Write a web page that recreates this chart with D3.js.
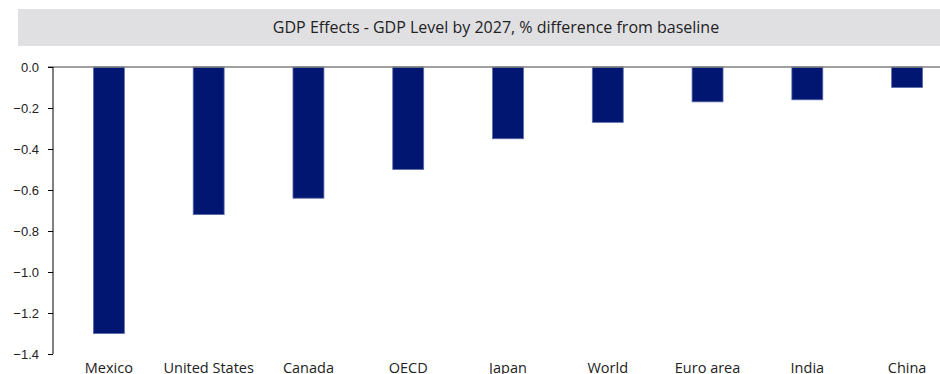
<!DOCTYPE html>
<meta charset="utf-8">
<title>GDP Effects</title>
<style>
body { margin: 0; background: #fff; }
svg { display: block; font-family: "Open Sans", sans-serif; }
.bar { fill: #001670; stroke: #5a6aa8; stroke-width: 0.8; }
.axis--y path, .axis--y line { stroke: #000; }
.axis--y text { font-size: 13px; fill: #222; }
.axis--x text { font-size: 14.5px; fill: #222; }
</style>
<svg width="940" height="374"></svg>
<script src="https://d3js.org/d3.v7.min.js"></script>
<script>

var categories = ["Mexico", "United States", "Canada", "OECD", "Japan", "World", "Euro area", "India", "China"];
var values = [-1.3, -0.72, -0.64, -0.5, -0.35, -0.27, -0.17, -0.16, -0.1];
var yTicks = [0, -0.2, -0.4, -0.6, -0.8, -1.0, -1.2, -1.4];
var title = "GDP Effects - GDP Level by 2027, % difference from baseline";

var svg = d3.select("svg"),
    width = +svg.attr("width"),
    height = +svg.attr("height");

var plotLeft = 53, plotTop = 67, plotBottom = 354;

// title band
svg.append("rect")
    .attr("x", 18).attr("y", 9)
    .attr("width", width - 18).attr("height", 37)
    .attr("fill", "#e0e0e2");
svg.append("text")
    .attr("x", 496).attr("y", 33)
    .attr("text-anchor", "middle")
    .style("font-size", "16px")
    .attr("fill", "#222")
    .text(title);

var x = d3.scaleBand().domain(categories).range([59, 957]).paddingInner(0.69).paddingOuter(0.345),
    y = d3.scaleLinear().domain([-1.4, 0]).range([plotBottom, plotTop]);

svg.selectAll(".bar")
    .data(values)
    .enter().append("rect")
    .attr("class", "bar")
    .attr("x", function(d, i) { return x(categories[i]); })
    .attr("y", y(0))
    .attr("width", x.bandwidth())
    .attr("height", function(d) { return y(d) - y(0); });

// zero line
svg.append("line")
    .attr("x1", plotLeft - 5).attr("x2", width)
    .attr("y1", y(0)).attr("y2", y(0))
    .attr("stroke", "#808080").attr("stroke-width", 1.5);

svg.append("g")
    .attr("class", "axis axis--y")
    .attr("transform", "translate(" + plotLeft + ",0)")
    .call(d3.axisLeft(y).tickValues(yTicks).tickFormat(d3.format(".1f")).tickSize(5).tickSizeOuter(0))
    .call(function(g) { g.select(".domain").attr("d", "M0," + y(0) + "V" + y(-1.4)); })
    .selectAll("text").attr("x", -14);

// category labels
svg.append("g")
    .attr("class", "axis axis--x")
    .selectAll("text")
    .data(categories)
    .enter().append("text")
    .attr("x", function(d) { return x(d) + x.bandwidth() / 2; })
    .attr("y", 373)
    .attr("text-anchor", "middle")
    .text(function(d) { return d; });

</script>
